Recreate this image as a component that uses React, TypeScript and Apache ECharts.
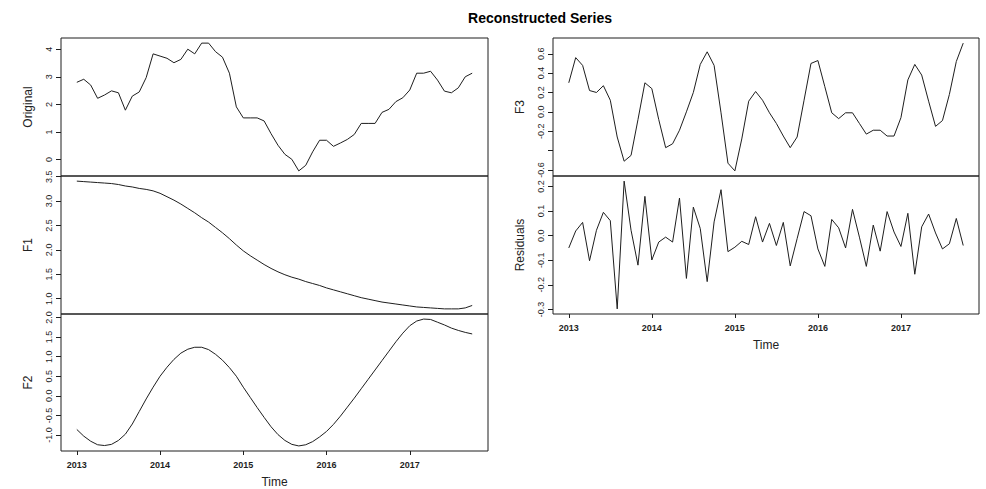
import React, { useEffect, useRef } from "react";
import * as echarts from "echarts";

const START_YEAR = 2013;
const YEAR_TICKS = [2013, 2014, 2015, 2016, 2017];

const original = [
  2.80, 2.91, 2.70, 2.22, 2.34, 2.49, 2.42, 1.79, 2.30, 2.45, 2.97, 3.83,
  3.75, 3.67, 3.51, 3.63, 4.00, 3.83, 4.22, 4.22, 3.91, 3.71, 3.13, 1.91,
  1.51, 1.51, 1.51, 1.40, 0.94, 0.52, 0.19, 0.01, -0.41, -0.21, 0.28, 0.70,
  0.70, 0.48, 0.60, 0.73, 0.91, 1.31, 1.31, 1.31, 1.71, 1.82, 2.10, 2.24,
  2.52, 3.13, 3.13, 3.20, 2.88, 2.48, 2.42, 2.60, 3.00, 3.13,
];

const f1 = [
  3.41, 3.40, 3.39, 3.38, 3.37, 3.36, 3.34, 3.31, 3.29, 3.26, 3.24, 3.21,
  3.16, 3.09, 3.02, 2.94, 2.85, 2.76, 2.66, 2.57, 2.46, 2.35, 2.23, 2.10,
  1.98, 1.88, 1.79, 1.70, 1.62, 1.55, 1.49, 1.44, 1.40, 1.35, 1.31, 1.27,
  1.22, 1.18, 1.14, 1.10, 1.06, 1.02, 0.99, 0.96, 0.93, 0.91, 0.89, 0.87,
  0.85, 0.83, 0.82, 0.81, 0.80, 0.79, 0.79, 0.79, 0.81, 0.86,
];

const f2 = [
  -0.86, -1.03, -1.16, -1.25, -1.27, -1.24, -1.14, -0.98, -0.72, -0.40, -0.08, 0.22,
  0.50, 0.73, 0.93, 1.09, 1.19, 1.24, 1.24, 1.18, 1.06, 0.91, 0.72, 0.50,
  0.22, -0.04, -0.30, -0.55, -0.79, -0.99, -1.14, -1.24, -1.28, -1.25, -1.17, -1.05,
  -0.91, -0.73, -0.52, -0.29, -0.06, 0.18, 0.42, 0.66, 0.90, 1.14, 1.38, 1.60,
  1.79, 1.91, 1.96, 1.95, 1.88, 1.81, 1.73, 1.67, 1.62, 1.58,
];

const f3 = [
  0.30, 0.56, 0.48, 0.22, 0.20, 0.27, 0.12, -0.26, -0.51, -0.45, -0.08, 0.30,
  0.24, -0.08, -0.37, -0.33, -0.19, 0.00, 0.20, 0.49, 0.62, 0.48, -0.01, -0.53,
  -0.61, -0.28, 0.11, 0.21, 0.12, -0.01, -0.12, -0.25, -0.37, -0.26, 0.12, 0.50,
  0.53, 0.26, -0.01, -0.07, -0.01, -0.01, -0.12, -0.23, -0.19, -0.19, -0.25, -0.25,
  -0.06, 0.33, 0.49, 0.38, 0.11, -0.15, -0.09, 0.18, 0.52, 0.71,
];

const residuals = [
  -0.050, 0.019, 0.054, -0.102, 0.022, 0.095, 0.061, -0.298, 0.222, 0.022, -0.120, 0.160,
  -0.099, -0.026, -0.006, -0.026, 0.153, -0.174, 0.116, 0.029, -0.187, 0.056, 0.187, -0.065,
  -0.047, -0.023, -0.036, 0.077, -0.026, 0.050, -0.040, 0.054, -0.123, -0.012, 0.098, 0.081,
  -0.054, -0.125, 0.066, 0.032, -0.050, 0.107, -0.006, -0.125, 0.043, -0.063, 0.098, 0.015,
  -0.044, 0.091, -0.157, 0.036, 0.088, 0.011, -0.054, -0.033, 0.070, -0.040,
];

const ORIGINAL_TICKS = [0, 1, 2, 3, 4];
const F1_TICKS = [1.0, 1.5, 2.0, 2.5, 3.0, 3.5];
const F2_TICKS = [-1.0, -0.5, 0.0, 0.5, 1.0, 1.5, 2.0];
const F3_TICKS = [-0.6, -0.4, -0.2, 0.0, 0.2, 0.4, 0.6];
const F3_LABELS = [-0.6, -0.2, 0.0, 0.2, 0.4, 0.6];
const RES_TICKS = [-0.3, -0.2, -0.1, 0.0, 0.1, 0.2];

const INK = "#1e1e1e";

function ext(v: number[]): [number, number] {
  const lo = Math.min(...v);
  const hi = Math.max(...v);
  const pad = (hi - lo) * 0.04;
  return [lo - pad, hi + pad];
}

export default function App() {
  const ref = useRef<HTMLDivElement>(null);

  useEffect(() => {
    if (!ref.current) return;
    const chart = echarts.init(ref.current, undefined, { renderer: "svg" });

    const times = original.map((_, i) => START_YEAR + i / 12);
    const [xMin, xMax] = ext(times);

    const panels = [
      { name: "Original", data: original, ticks: ORIGINAL_TICKS, labels: ORIGINAL_TICKS, dec: 0, grid: { left: 61, top: 38, width: 427, height: 138 }, showX: false },
      { name: "F1", data: f1, ticks: F1_TICKS, labels: F1_TICKS, dec: 1, grid: { left: 61, top: 176, width: 427, height: 138 }, showX: false },
      { name: "F2", data: f2, ticks: F2_TICKS, labels: F2_TICKS, dec: 1, grid: { left: 61, top: 314, width: 427, height: 137 }, showX: true },
      { name: "F3", data: f3, ticks: F3_TICKS, labels: F3_LABELS, dec: 1, grid: { left: 553, top: 38, width: 426, height: 138 }, showX: false },
      { name: "Residuals", data: residuals, ticks: RES_TICKS, labels: RES_TICKS, dec: 1, grid: { left: 553, top: 176, width: 426, height: 138 }, showX: true },
    ];

    const labelFont = { fontFamily: "Liberation Sans, Arial, sans-serif", fontSize: 9, color: INK };

    const option: any = {
      animation: false,
      backgroundColor: "#ffffff",
      title: {
        text: "Reconstructed Series",
        left: 535,
        top: 6,
        textAlign: "center",
        textStyle: { fontFamily: "Liberation Sans, Arial, sans-serif", fontSize: 14, fontWeight: "bold", color: "#000" },
      },
      grid: panels.map((p) => ({ ...p.grid, show: true, borderColor: INK, borderWidth: 1, backgroundColor: "transparent" })),
      xAxis: panels.map((p, i) => ({
        type: "value",
        gridIndex: i,
        position: "bottom",
        min: xMin,
        max: xMax,
        name: p.showX ? "Time" : "",
        nameLocation: "middle",
        nameGap: 25,
        nameTextStyle: { fontFamily: "Liberation Sans, Arial, sans-serif", fontSize: 12, color: "#222" },
        axisLine: { show: false, onZero: false },
        splitLine: { show: false },
        axisTick: { show: p.showX, length: 4, customValues: YEAR_TICKS, lineStyle: { color: INK } },
        axisLabel: {
          show: p.showX,
          customValues: YEAR_TICKS,
          margin: 9,
          ...labelFont,
          fontWeight: "bold",
          formatter: (v: number) => String(Math.round(v)),
        },
      })),
      yAxis: panels.map((p, i) => {
        const [yMin, yMax] = ext(p.data);
        return {
          type: "value",
          gridIndex: i,
          position: "left",
          min: yMin,
          max: yMax,
          name: p.name,
          nameLocation: "middle",
          nameGap: 27,
          nameTextStyle: { fontFamily: "Liberation Sans, Arial, sans-serif", fontSize: 12, color: "#222" },
          axisLine: { show: false, onZero: false },
          splitLine: { show: false },
          axisTick: { show: true, length: 5, customValues: p.ticks, lineStyle: { color: INK } },
          axisLabel: {
            customValues: p.labels,
            rotate: 90,
            margin: 8,
            ...labelFont,
            formatter: (v: number) => (p.dec === 0 ? String(Math.round(v)) : v.toFixed(p.dec)),
          },
        };
      }),
      series: panels.map((p, i) => ({
        type: "line",
        xAxisIndex: i,
        yAxisIndex: i,
        data: p.data.map((v, k) => [times[k], v]),
        showSymbol: false,
        symbol: "none",
        silent: true,
        lineStyle: { color: INK, width: 1 },
      })),
    };

    chart.setOption(option);
    return () => chart.dispose();
  }, []);

  return (
    <div
      ref={ref}
      style={{ position: "absolute", left: 0, top: 0, width: 986, height: 489, background: "#fff" }}
    />
  );
}
